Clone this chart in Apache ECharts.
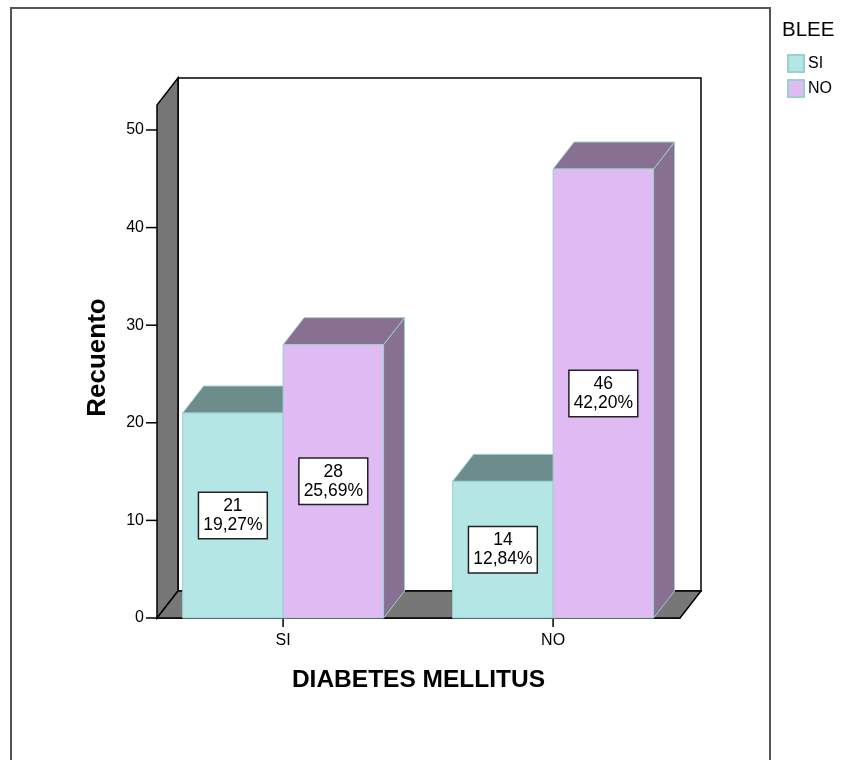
<!DOCTYPE html>
<html>
<head>
<meta charset="utf-8">
<script src="https://cdn.jsdelivr.net/npm/echarts@6/dist/echarts.min.js"></script>
<style>
  html, body { margin: 0; padding: 0; background: #fff; }
  #chart { width: 842px; height: 760px; }
</style>
</head>
<body>
<div id="chart"></div>
<script>
// Diabetes mellitus categories along the x axis
const diabetesCategories = ['SI', 'NO'];
// BLEE groups shown in the legend
const bleeGroups = ['SI', 'NO'];
// Counts for each BLEE group, one per diabetes category
const countsBleeSi = [21, 14];
const countsBleeNo = [28, 46];
// Count axis ticks
const yTicks = [0, 10, 20, 30, 40, 50];

const FONT = '"Liberation Sans", Arial, Helvetica, sans-serif';
const DEPTH_X = 21;     // 3D depth offset in pixels
const DEPTH_Y = -27;
const BAR_W = 0.372;    // bar width in category units
const X_MIN = -0.467;
const X_MAX = 1.47;
const Y_MAX = 52.56;

const total = countsBleeSi.concat(countsBleeNo).reduce((a, b) => a + b, 0);
function pct(v) {
  return (v / total * 100).toFixed(2).replace('.', ',') + '%';
}

const faceColors = {
  SI: { front: '#b4e6e6', dark: '#6d8c8c' },
  NO: { front: '#e0baf2', dark: '#877092' }
};
const EDGE = '#9ccfcf';
const WALL = '#777777';

function barRenderer(groupName, offset) {
  const c = faceColors[groupName];
  return function (params, api) {
    const cat = api.value(0);
    const val = api.value(1);
    const left = cat + offset;
    const p0 = api.coord([left, val]);
    const p1 = api.coord([left + BAR_W, 0]);
    const x0 = p0[0], yT = p0[1], x1 = p1[0], yB = p1[1];
    const cx = (x0 + x1) / 2, cy = (yT + yB) / 2;
    return {
      type: 'group',
      children: [
        {
          type: 'polygon',
          shape: { points: [[x1, yT], [x1, yB], [x1 + DEPTH_X, yB + DEPTH_Y], [x1 + DEPTH_X, yT + DEPTH_Y]] },
          style: { fill: c.dark, stroke: EDGE, lineWidth: 1 }
        },
        {
          type: 'polygon',
          shape: { points: [[x0, yT], [x1, yT], [x1 + DEPTH_X, yT + DEPTH_Y], [x0 + DEPTH_X, yT + DEPTH_Y]] },
          style: { fill: c.dark, stroke: EDGE, lineWidth: 1 }
        },
        {
          type: 'rect',
          shape: { x: x0, y: yT, width: x1 - x0, height: yB - yT },
          style: { fill: c.front, stroke: EDGE, lineWidth: 1 }
        },
        {
          type: 'text',
          x: cx, y: cy, z2: 10,
          style: {
            text: val + '\n' + pct(val),
            fill: '#000',
            fontSize: 17.5,
            fontFamily: FONT,
            lineHeight: 19,
            align: 'center',
            verticalAlign: 'middle',
            backgroundColor: '#fff',
            borderColor: '#222',
            borderWidth: 1.5,
            padding: [4, 4, 3, 4]
          }
        }
      ]
    };
  };
}

// Back wall, side wall, floor and the axis tick marks
function wallRenderer(params, api) {
  const cs = params.coordSys;
  const x0 = cs.x, x1 = cs.x + cs.width, yT = cs.y, yB = cs.y + cs.height;
  const lineStyle = { stroke: '#000', lineWidth: 1.5 };
  const children = [
    {
      type: 'rect',
      shape: { x: x0 + DEPTH_X, y: yT + DEPTH_Y, width: cs.width, height: cs.height },
      style: Object.assign({ fill: '#fff' }, lineStyle)
    },
    {
      type: 'polygon',
      shape: { points: [[x0, yB], [x0, yT], [x0 + DEPTH_X, yT + DEPTH_Y], [x0 + DEPTH_X, yB + DEPTH_Y]] },
      style: Object.assign({ fill: WALL }, lineStyle)
    },
    {
      type: 'polygon',
      shape: { points: [[x0, yB], [x1, yB], [x1 + DEPTH_X, yB + DEPTH_Y], [x0 + DEPTH_X, yB + DEPTH_Y]] },
      style: Object.assign({ fill: WALL }, lineStyle)
    }
  ];
  yTicks.forEach(t => {
    const p = api.coord([X_MIN, t]);
    children.push({
      type: 'line',
      shape: { x1: p[0] - 11, y1: p[1], x2: p[0], y2: p[1] },
      style: { stroke: '#000', lineWidth: 1.5 }
    });
  });
  diabetesCategories.forEach((c, i) => {
    const p = api.coord([i, 0]);
    children.push({
      type: 'line',
      shape: { x1: p[0], y1: p[1], x2: p[0], y2: p[1] + 9 },
      style: { stroke: '#000', lineWidth: 1.5 }
    });
  });
  return { type: 'group', children: children };
}

const chart = echarts.init(document.getElementById('chart'), null, { renderer: 'canvas' });

chart.setOption({
  backgroundColor: '#fff',
  animation: false,
  textStyle: { fontFamily: FONT, color: '#000' },
  title: {
    text: 'BLEE',
    left: 782,
    top: 20,
    padding: 0,
    textStyle: { fontSize: 20.5, fontWeight: 'normal', color: '#000', fontFamily: FONT }
  },
  legend: {
    data: bleeGroups,
    orient: 'vertical',
    left: 787,
    top: 54,
    padding: 0,
    itemWidth: 16,
    itemHeight: 17,
    itemGap: 6,
    icon: 'rect',
    textStyle: { fontSize: 16, color: '#000', fontFamily: FONT, padding: [0, 0, 0, -1] }
  },
  graphic: [
    {
      type: 'rect',
      shape: { x: 11, y: 8, width: 759, height: 800 },
      style: { fill: 'none', stroke: '#555', lineWidth: 2 },
      z: -10,
      silent: true
    }
  ],
  grid: { left: 157, top: 105, width: 523, height: 513 },
  xAxis: {
    type: 'value',
    min: X_MIN,
    max: X_MAX,
    splitLine: { show: false },
    axisLine: { show: true, lineStyle: { color: '#000', width: 1.5 } },
    axisTick: { show: false },
    axisLabel: {
      customValues: [0, 1],
      formatter: v => diabetesCategories[Math.round(v)],
      fontSize: 16, color: '#000', fontFamily: FONT, margin: 15
    },
    name: 'DIABETES MELLITUS',
    nameLocation: 'middle',
    nameGap: 50,
    nameTextStyle: { fontSize: 24.5, fontWeight: 'bold', color: '#000', fontFamily: FONT }
  },
  yAxis: {
    type: 'value',
    min: 0,
    max: Y_MAX,
    splitLine: { show: false },
    axisLine: { show: true, lineStyle: { color: '#000', width: 1.5 } },
    axisTick: { show: false },
    axisLabel: {
      customValues: yTicks,
      fontSize: 16, color: '#000', fontFamily: FONT, margin: 13,
      padding: [3, 0, 0, 0]
    },
    name: 'Recuento',
    nameLocation: 'middle',
    nameGap: 46,
    nameRotate: 90,
    nameTextStyle: { fontSize: 26, fontWeight: 'bold', color: '#000', fontFamily: FONT, padding: [0, 0, 0, 8] }
  },
  series: [
    {
      type: 'custom',
      name: 'walls',
      silent: true,
      z: 1,
      renderItem: wallRenderer,
      data: [[0, 0]]
    },
    {
      type: 'custom',
      name: bleeGroups[0],
      z: 2,
      itemStyle: { color: faceColors.SI.front, borderColor: EDGE, borderWidth: 1 },
      renderItem: barRenderer('SI', -BAR_W),
      data: diabetesCategories.map((c, i) => [i, countsBleeSi[i]])
    },
    {
      type: 'custom',
      name: bleeGroups[1],
      z: 2,
      itemStyle: { color: faceColors.NO.front, borderColor: EDGE, borderWidth: 1 },
      renderItem: barRenderer('NO', 0),
      data: diabetesCategories.map((c, i) => [i, countsBleeNo[i]])
    }
  ]
});
</script>
</body>
</html>
